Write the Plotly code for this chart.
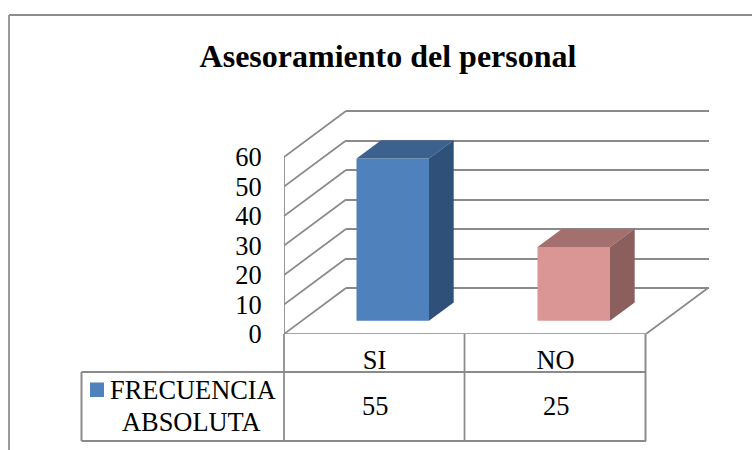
import plotly.graph_objects as go

title = "Asesoramiento del personal"
categories = ["SI", "NO"]
series_name = ["FRECUENCIA", "ABSOLUTA"]
values = [55, 25]
y_ticks = [0, 10, 20, 30, 40, 50, 60]
front_colors = ["#4F81BD", "#D99694"]
top_colors = ["#3C618E", "#A3706F"]
side_colors = ["#2F5078", "#8B5F5D"]

W, H = 752, 450
GRID = "#8A8A8A"
FONT = "Liberation Serif"
TEXT_SIZE = 26.4
X0, X1, Y0, Y1 = 284, 646, 334, 157
DX, DY = 62, 46
PX_PER_UNIT = (Y0 - Y1) / 60
PX_PER_CAT = (X1 - X0) / 2
PLOT_TOP = 90        # the front axes run on above 60 so the 3D faces are not clipped
PLOT_RIGHT = 730
BACK_BOTTOM = 300

BAR_WIDTH = 72.5 / PX_PER_CAT
BAR_OFFSET = -0.0995
BAR_BASE = (Y0 - 320.7) / PX_PER_UNIT
DEPTH_X = 24.7 / PX_PER_CAT
DEPTH_Y = 18.3 / PX_PER_UNIT
WALL_X = DX / PX_PER_CAT
WALL_Y = DY / PX_PER_UNIT
positions = list(range(len(categories)))


def px(x):
    return x / W


def py(y):
    return 1 - y / H


fig = go.Figure()

# back wall: real gridlines on the primary axes (drawn beneath the bars)
fig.add_trace(go.Scatter(x=[0, 1], y=[0, 0], mode="lines", line=dict(width=0),
                         showlegend=False, hoverinfo="skip", xaxis="x", yaxis="y"))


def edge(xs, ys):
    fig.add_trace(go.Scatter(
        x=xs, y=ys, mode="lines", line=dict(color=GRID, width=1.75),
        showlegend=False, hoverinfo="skip", xaxis="x2", yaxis="y2"))


# left wall and floor edges
for t in y_ticks:
    edge([-0.5, -0.5 + WALL_X], [t, t + WALL_Y])
edge([1.5, 1.5 + WALL_X], [0, WALL_Y])
edge([-0.5, -0.5], [0, y_ticks[-1]])
edge([-0.5, 1.5], [0, 0])

# bar fronts
fig.add_trace(go.Bar(
    x=positions, y=values, base=[BAR_BASE] * len(values), width=BAR_WIDTH,
    offset=BAR_OFFSET, marker=dict(color=front_colors, line=dict(width=0)),
    name=" ".join(series_name), showlegend=False,
    xaxis="x2", yaxis="y2"))

# bar tops and sides
for i, v in enumerate(values):
    left = i + BAR_OFFSET
    right = left + BAR_WIDTH
    low = BAR_BASE
    high = BAR_BASE + v
    fig.add_trace(go.Scatter(
        x=[left, right, right + DEPTH_X, left + DEPTH_X, left],
        y=[high, high, high + DEPTH_Y, high + DEPTH_Y, high],
        mode="lines", fill="toself", fillcolor=top_colors[i], line=dict(width=0),
        showlegend=False, hoverinfo="skip", xaxis="x2", yaxis="y2"))
    fig.add_trace(go.Scatter(
        x=[right, right + DEPTH_X, right + DEPTH_X, right, right],
        y=[low, low + DEPTH_Y, high + DEPTH_Y, high, low],
        mode="lines", fill="toself", fillcolor=side_colors[i], line=dict(width=0),
        showlegend=False, hoverinfo="skip", xaxis="x2", yaxis="y2"))

shapes = []


def seg(x0, y0, x1, y1, width=1.75, color=GRID):
    shapes.append(dict(type="line", xref="paper", yref="paper",
                       x0=px(x0), y0=py(y0), x1=px(x1), y1=py(y1),
                       line=dict(color=color, width=width)))


# outer frame of the chart
seg(9, 15, 752, 15, 2, "#8C8C8C")
seg(9, 15, 9, 450, 2, "#9A9A9A")

# data table
seg(284, 334, 284, 441, 1.75)
seg(464.5, 334, 464.5, 441, 1.75)
seg(645.5, 334, 645.5, 441, 2)
seg(284, 372, 646, 372, 2)
seg(81.5, 372, 284, 372, 2)
seg(81.5, 372, 81.5, 441, 2)
seg(81.5, 441, 646, 441, 2)

# legend key in the data table
shapes.append(dict(type="rect", xref="paper", yref="paper",
                   x0=px(90), x1=px(104), y0=py(397), y1=py(382.5),
                   fillcolor=front_colors[0], line=dict(width=0)))

annotations = [
    dict(text=series_name[0], x=px(107.5), y=py(390), xanchor="left"),
    dict(text=series_name[1], x=px(119.5), y=py(421.5), xanchor="left"),
]
for i, v in enumerate(values):
    annotations.append(dict(text=str(v), x=i, xref="x2", y=py(406), xanchor="center"))
for a in annotations:
    a.setdefault("xref", "paper")
    a.update(yref="paper", yanchor="middle", showarrow=False,
             font=dict(family=FONT, size=TEXT_SIZE, color="#000000"))

tick_font = dict(family=FONT, size=TEXT_SIZE, color="#000000")

fig.update_layout(
    width=W, height=H, autosize=False, margin=dict(l=0, r=0, t=0, b=0, pad=0, autoexpand=False),
    paper_bgcolor="#FFFFFF", plot_bgcolor="rgba(0,0,0,0)",
    barmode="overlay", showlegend=False,
    title=dict(text="<b>%s</b>" % title, x=388 / W, xanchor="center", y=py(56),
               yanchor="middle", font=dict(family=FONT, size=32, color="#000000")),
    xaxis=dict(domain=[px(346), px(709)], range=[0, 1], showgrid=False, zeroline=False,
               showticklabels=False, ticks="", showline=False, fixedrange=True, automargin=False),
    yaxis=dict(domain=[py(BACK_BOTTOM), py(PLOT_TOP)],
               range=[(288 - BACK_BOTTOM) / PX_PER_UNIT, (288 - PLOT_TOP) / PX_PER_UNIT],
               tickvals=y_ticks, showgrid=True,
               gridcolor=GRID, gridwidth=1.75, zeroline=False, showticklabels=False,
               ticks="", showline=False, fixedrange=True, automargin=False),
    xaxis2=dict(domain=[px(X0), px(PLOT_RIGHT)],
                range=[-0.5, -0.5 + (PLOT_RIGHT - X0) / PX_PER_CAT], anchor="y2",
                tickvals=positions, ticktext=categories,
                showline=False, showgrid=False, zeroline=False,
                ticks="outside", ticklen=2, tickcolor="rgba(0,0,0,0)",
                tickfont=tick_font, fixedrange=True, automargin=False),
    yaxis2=dict(domain=[py(Y0), py(PLOT_TOP)],
                range=[0, (Y0 - PLOT_TOP) / PX_PER_UNIT], tickvals=y_ticks, anchor="x2",
                showline=False, showgrid=False, zeroline=False,
                ticks="outside", ticklen=16, tickcolor="rgba(0,0,0,0)",
                tickfont=tick_font, fixedrange=True, automargin=False),
    shapes=shapes, annotations=annotations,
)

fig.write_html("out.html", config=dict(displayModeBar=False),
               post_script="document.body.style.margin='0';document.body.style.overflow='hidden';")
